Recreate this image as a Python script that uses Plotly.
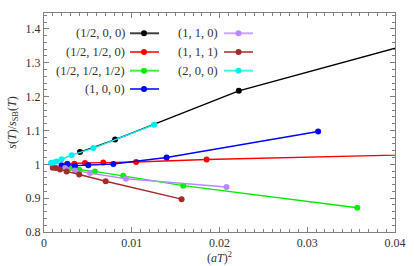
import plotly.graph_objects as go

# ---- data ----
labels = ["(1/2, 0, 0)", "(1/2, 1/2, 0)", "(1/2, 1/2, 1/2)", "(1, 0, 0)",
          "(1, 1, 0)", "(1, 1, 1)", "(2, 0, 0)"]
colors = ["#000000", "#ff0000", "#00ee00", "#0000ff", "#bb88ff", "#a52a2a", "#00eeee"]

x_half00 = [0.0041, 0.0081, 0.0222, 0.05]
y_half00 = [1.036, 1.073, 1.217, 1.414]

x_halfhalf0 = [0.00265, 0.00346, 0.00467, 0.00675, 0.0105, 0.01853, 0.05]
y_halfhalf0 = [1.002, 1.002, 1.004, 1.005, 1.007, 1.014, 1.033]

x_halfhalfhalf = [0.00296, 0.00402, 0.0058, 0.00903, 0.01587, 0.0357]
y_halfhalfhalf = [0.989, 0.984, 0.979, 0.966, 0.937, 0.8715]

x_100 = [0.0020, 0.00265, 0.00353, 0.00505, 0.0079, 0.01397, 0.03124]
y_100 = [0.997, 1.000, 0.996, 0.997, 1.001, 1.020, 1.097]

x_110 = [0.0024, 0.00353, 0.00524, 0.00934, 0.0208]
y_110 = [0.989, 0.982, 0.974, 0.9575, 0.933]

x_111 = [0.0010, 0.00137, 0.00182, 0.00258, 0.00402, 0.00703, 0.01568]
y_111 = [0.990, 0.989, 0.985, 0.979, 0.970, 0.950, 0.897]

x_200 = [0.0008, 0.00106, 0.00144, 0.0020, 0.00315, 0.00562, 0.01256]
y_200 = [1.004, 1.005, 1.008, 1.015, 1.027, 1.048, 1.117]

xs = [x_half00, x_halfhalf0, x_halfhalfhalf, x_100, x_110, x_111, x_200]
ys = [y_half00, y_halfhalf0, y_halfhalfhalf, y_100, y_110, y_111, y_200]

x_ticks = [0, 0.01, 0.02, 0.03, 0.04]
x_ticklabels = ["0", "0.01", "0.02", "0.03", "0.04"]
y_ticks = [0.8, 0.9, 1.0, 1.1, 1.2, 1.3, 1.4]
y_ticklabels = ["0.8", "0.9", "1", "1.1", "1.2", "1.3", "1.4"]

FONT = "Liberation Serif"
TXT = "#333333"
FRAME = "#808080"

fig = go.Figure()
for x, y, c, name in zip(xs, ys, colors, labels):
    fig.add_trace(go.Scatter(x=x, y=y, mode="lines+markers", name=name,
                             line=dict(color=c, width=1.4),
                             marker=dict(color=c, size=6),
                             showlegend=False, cliponaxis=True))

# ---- custom legend: label on left, sample on right ----
L, R, T, B = 44, 395, 13, 232
def px(p):
    return (p - L) / (R - L)
def py(p):
    return (B - p) / (B - T)

cols = [dict(tx=125, l0=130, l1=159, m=144), dict(tx=218, l0=224, l1=253, m=238.5)]
rows = [33.3, 52, 70.7, 89]
for i, (name, c) in enumerate(zip(labels, colors)):
    col = cols[0] if i < 4 else cols[1]
    r = rows[i if i < 4 else i - 4]
    fig.add_annotation(x=px(col["tx"]), y=py(r), xref="paper", yref="paper",
                       text=name, showarrow=False, xanchor="right", yanchor="middle",
                       xshift=2, font=dict(family=FONT, size=12.5, color=TXT))
    fig.add_shape(type="line", xref="paper", yref="paper",
                  x0=px(col["l0"]), x1=px(col["l1"]), y0=py(r), y1=py(r),
                  line=dict(color=c, width=2), opacity=0.75)
    fig.add_shape(type="circle", xref="paper", yref="paper",
                  x0=px(col["m"] - 3), x1=px(col["m"] + 3),
                  y0=py(r + 3), y1=py(r - 3),
                  line=dict(color=c, width=0), fillcolor=c)

axis_common = dict(showgrid=False, zeroline=False, showline=True, linecolor=FRAME,
                   linewidth=1, mirror="allticks", ticks="inside", ticklen=5,
                   tickcolor=FRAME, tickwidth=1, automargin=False,
                   tickfont=dict(family=FONT, size=12, color=TXT))

fig.update_xaxes(range=[0, 0.04], tickvals=x_ticks, ticktext=x_ticklabels,
                 minor=dict(ticks="inside", ticklen=3, tickcolor=FRAME, dtick=0.001,
                            showgrid=False),
                 title=dict(text="(<i>aT</i>)<sup>2</sup>",
                            font=dict(family=FONT, size=12, color=TXT), standoff=2),
                 **axis_common)
fig.update_yaxes(range=[0.8, 1.447], tickvals=y_ticks, ticktext=y_ticklabels,
                 minor=dict(ticks="inside", ticklen=3, tickcolor=FRAME, dtick=0.02,
                            showgrid=False),
                 title=dict(text="<i>s</i>(<i>T</i>)/<i>s</i><sub>SB</sub>(<i>T</i>)",
                            font=dict(family=FONT, size=12, color=TXT), standoff=6),
                 **axis_common)

fig.update_layout(width=414, height=266, margin=dict(l=44, r=19, t=13, b=34),
                  paper_bgcolor="white", plot_bgcolor="white", showlegend=False)

fig.write_html("out.html", config={"displayModeBar": False},
               post_script="document.body.style.margin='0';document.body.style.padding='0';")
